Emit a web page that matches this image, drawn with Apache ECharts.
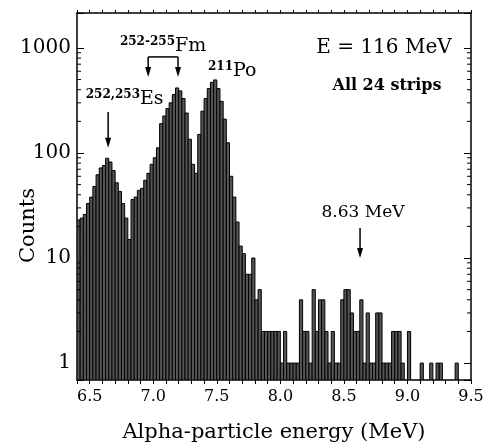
<!DOCTYPE html>
<html>
<head>
<meta charset="utf-8">
<script src="https://cdn.jsdelivr.net/npm/echarts@6/dist/echarts.min.js"></script>
<style>
html, body { margin: 0; padding: 0; background: #fff; }
#chart { width: 490px; height: 442px; }
</style>
</head>
<body>
<div id="chart"></div>
<script>
// histogram bins, 0.025 MeV wide, first bin starts at 6.400 MeV
var binStart = 6.4;
var binWidth = 0.025;
var counts = [
    23, 24, 26, 33, 38, 48, 62, 72, 76, 89,
    82, 68, 52, 43, 33, 24, 15, 36, 38, 44,
    46, 55, 64, 78, 90, 112, 190, 225, 265, 300,
    360, 416, 390, 330, 240, 135, 78, 64, 150, 250,
    330, 410, 470, 496, 410, 310, 210, 125, 60, 38,
    22, 13, 11, 7, 7, 10, 4, 5, 2, 2,
    2, 2, 2, 2, 1, 2, 1, 1, 1, 1,
    4, 2, 2, 1, 5, 2, 4, 4, 2, 1,
    2, 1, 1, 4, 5, 5, 3, 2, 2, 4,
    1, 3, 1, 1, 3, 3, 1, 1, 1, 2,
    2, 2, 1, 0, 2, 0, 0, 0, 1, 0,
    0, 1, 0, 1, 1, 0, 0, 0, 0, 1,
    0, 0, 0, 0
];
// axis labels
var xTickLabels = ['6.5', '7.0', '7.5', '8.0', '8.5', '9.0', '9.5'];
var yTickLabels = ['1', '10', '100', '1000'];
// log minor ticks (2..9 in each decade)
var yMinorTicks = [2, 3, 4, 5, 6, 7, 8, 9, 20, 30, 40, 50, 60, 70, 80, 90,
    200, 300, 400, 500, 600, 700, 800, 900];

var xMin = 6.4, xMax = 9.5;
var yMin = 0.69, yMax = 2150;
var serif = 'DejaVu Serif';

var myChart = echarts.init(document.getElementById('chart'));

// 柱子数据 [起点, 终点, 计数]
var barData = [];
for (var i = 0; i < counts.length; i++) {
    barData.push([binStart + i * binWidth, binStart + (i + 1) * binWidth, counts[i]]);
}
var minorData = [];
for (var j = 0; j < yMinorTicks.length; j++) {
    minorData.push([xMin, yMinorTicks[j]]);
}

function renderBar(params, api) {
    var c = api.value(2);
    if (!(c > 0)) return;
    var p0 = api.coord([api.value(0), c]);
    var p1 = api.coord([api.value(1), yMin]);
    return {
        type: 'rect',
        shape: { x: p0[0], y: p0[1], width: p1[0] - p0[0], height: p1[1] - p0[1] },
        style: { fill: '#555', stroke: '#000', lineWidth: 1 }
    };
}

function renderMinorTick(params, api) {
    var cs = params.coordSys;
    var y = api.coord([xMin, api.value(1)])[1];
    return {
        type: 'group',
        children: [
            { type: 'line', shape: { x1: cs.x, y1: y, x2: cs.x + 4, y2: y }, style: { stroke: '#000', lineWidth: 1 } },
            { type: 'line', shape: { x1: cs.x + cs.width - 4, y1: y, x2: cs.x + cs.width, y2: y }, style: { stroke: '#000', lineWidth: 1 } }
        ]
    };
}

// 箭头: [x, 起点计数, 终点计数]
function renderArrow(params, api) {
    var a = api.coord([api.value(0), api.value(1)]);
    var b = api.coord([api.value(0), api.value(2)]);
    return {
        type: 'group',
        children: [
            { type: 'line', shape: { x1: a[0], y1: a[1], x2: b[0], y2: b[1] - 8 }, style: { stroke: '#000', lineWidth: 1.5 } },
            { type: 'polygon', shape: { points: [[b[0] - 3, b[1] - 10], [b[0] + 3, b[1] - 10], [b[0], b[1]]] }, style: { fill: '#000' } }
        ]
    };
}

function renderBracket(params, api) {
    var a = api.coord([api.value(0), api.value(2)]);
    var b = api.coord([api.value(1), api.value(2)]);
    return {
        type: 'line',
        shape: { x1: a[0], y1: a[1], x2: b[0], y2: b[1] },
        style: { stroke: '#000', lineWidth: 1.5 }
    };
}

function fmtX(v) {
    var s = v.toFixed(1);
    return xTickLabels.indexOf(s) >= 0 ? s : '';
}
function fmtY(v) {
    var r = Math.round(v);
    if (Math.abs(v - r) > 1e-6) return '';
    var s = String(r);
    return yTickLabels.indexOf(s) >= 0 ? s : '';
}

var axisLine = { show: true, onZero: false, lineStyle: { color: '#000', width: 1.5 } };

var option = {
    animation: false,
    grid: { left: 77, top: 13, width: 394, height: 367, containLabel: false, outerBoundsMode: 'none' },
    xAxis: [{
        type: 'value', min: xMin, max: xMax, interval: 0.1,
        axisLine: axisLine,
        axisTick: { length: 4, lineStyle: { color: '#000' } },
        axisLabel: { formatter: fmtX, fontFamily: serif, fontSize: 16, color: '#000', margin: 9 },
        splitLine: { show: false },
        name: 'Alpha-particle energy (MeV)',
        nameLocation: 'middle', nameGap: 42, nameMoveOverlap: false,
        nameTextStyle: { fontFamily: serif, fontSize: 21, color: '#000' }
    }, {
        type: 'value', position: 'top', min: xMin, max: xMax, interval: 0.1,
        axisLine: axisLine,
        axisTick: { length: 3, lineStyle: { color: '#000' } },
        axisLabel: { show: false },
        splitLine: { show: false }
    }],
    yAxis: [{
        type: 'log', logBase: 10, min: yMin, max: yMax,
        axisLine: axisLine,
        axisTick: { inside: true, length: 7, lineStyle: { color: '#000' } },
        axisLabel: { formatter: fmtY, fontFamily: serif, fontSize: 20, color: '#000', margin: 6 },
        splitLine: { show: false },
        name: 'Counts', nameLocation: 'middle', nameGap: 38, nameMoveOverlap: false,
        nameTextStyle: { fontFamily: serif, fontSize: 21, color: '#000', padding: [0, 58, 0, 0] }
    }, {
        type: 'log', logBase: 10, min: yMin, max: yMax, position: 'right',
        axisLine: axisLine,
        axisTick: { inside: true, length: 7, lineStyle: { color: '#000' } },
        axisLabel: { show: false },
        splitLine: { show: false }
    }],
    series: [{
        type: 'custom', name: 'counts',
        renderItem: renderBar,
        data: barData,
        clip: true,
        z: 2
    }, {
        type: 'custom', name: 'minor',
        renderItem: renderMinorTick,
        data: minorData,
        silent: true,
        z: 3
    }, {
        type: 'custom', name: 'arrows',
        renderItem: renderArrow,
        data: [[6.645, 246, 112], [6.96, 821, 529], [7.195, 821, 529], [8.627, 19.3, 10]],
        silent: true,
        z: 4
    }, {
        type: 'custom', name: 'bracket',
        renderItem: renderBracket,
        data: [[6.96, 7.195, 821]],
        silent: true,
        z: 4
    }],
    graphic: [
        { type: 'text', style: { x: 384, y: 48, text: 'E = 116 MeV', font: '20px "DejaVu Serif"', textAlign: 'center', textVerticalAlign: 'middle', fill: '#000' } },
        { type: 'text', style: { x: 387, y: 86, text: 'All 24 strips', font: 'bold 16px "DejaVu Serif"', textAlign: 'center', textVerticalAlign: 'middle', fill: '#000' } },
        { type: 'text', style: { x: 175, y: 42, text: '252-255', font: 'bold 12px "DejaVu Serif"', textAlign: 'right', textVerticalAlign: 'middle', fill: '#000' } },
        { type: 'text', style: { x: 175, y: 46, text: 'Fm', font: '19px "DejaVu Serif"', textAlign: 'left', textVerticalAlign: 'middle', fill: '#000' } },
        { type: 'text', style: { x: 233, y: 67, text: '211', font: 'bold 12px "DejaVu Serif"', textAlign: 'right', textVerticalAlign: 'middle', fill: '#000' } },
        { type: 'text', style: { x: 233, y: 71, text: 'Po', font: '19px "DejaVu Serif"', textAlign: 'left', textVerticalAlign: 'middle', fill: '#000' } },
        { type: 'text', style: { x: 140, y: 95, text: '252,253', font: 'bold 12px "DejaVu Serif"', textAlign: 'right', textVerticalAlign: 'middle', fill: '#000' } },
        { type: 'text', style: { x: 140, y: 99, text: 'Es', font: '19px "DejaVu Serif"', textAlign: 'left', textVerticalAlign: 'middle', fill: '#000' } },
        { type: 'text', style: { x: 363, y: 213, text: '8.63 MeV', font: '17px "DejaVu Serif"', textAlign: 'center', textVerticalAlign: 'middle', fill: '#000' } }
    ]
};

myChart.setOption(option);
</script>
</body>
</html>
